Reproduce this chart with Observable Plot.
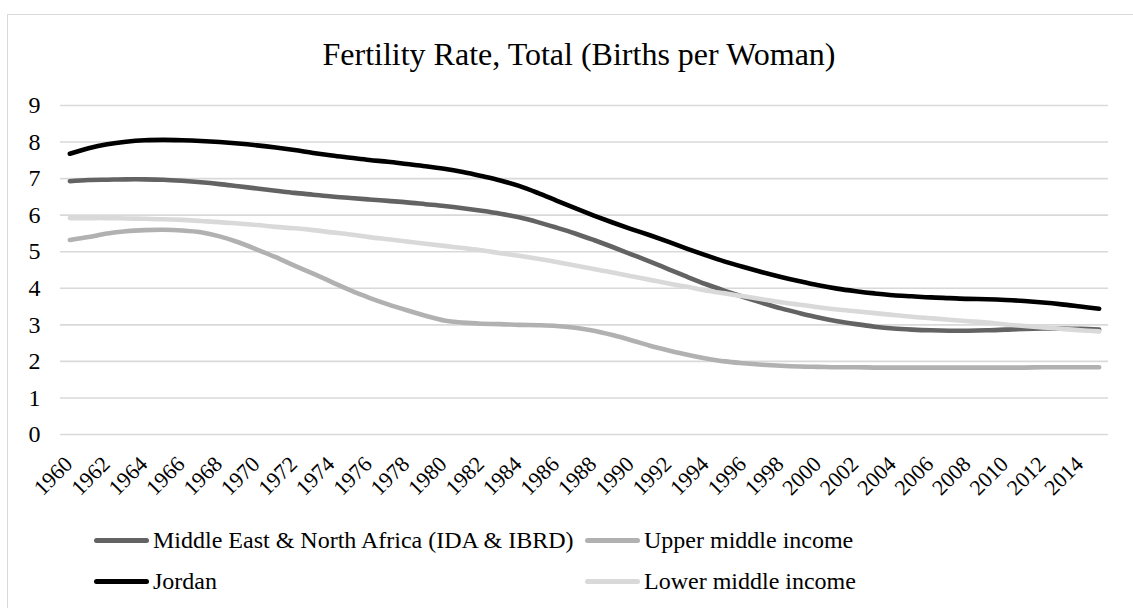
<!DOCTYPE html>
<html>
<head>
<meta charset="utf-8">
<script src="https://cdn.jsdelivr.net/npm/d3@7"></script>
<script src="https://cdn.jsdelivr.net/npm/@observablehq/plot@0.6"></script>
<style>
  html, body { margin: 0; padding: 0; background: #fff; overflow: hidden; }
  body { width: 1133px; height: 608px; position: relative; font-family: "Liberation Serif", "Times New Roman", serif; }
  #frame { position: absolute; left: 7px; top: 14px; width: 1200px; height: 700px; border: 1px solid #d9d9d9; box-sizing: border-box; }
  #title { position: absolute; left: 0; top: 38px; width: 1158px; text-align: center; font-size: 32px; line-height: 32px; color: #000; white-space: nowrap; }
  #chart { position: absolute; left: 0; top: 0; }
  .item { position: absolute; font-size: 24px; line-height: 24px; color: #000; white-space: nowrap; padding-left: 59px; }
  .sw { position: absolute; left: 0; top: 9.5px; width: 55px; height: 5px; border-radius: 3px; }
</style>
</head>
<body>
<div id="frame"></div>
<div id="title">Fertility Rate, Total (Births per Woman)</div>
<div id="chart"></div>
<div id="legend"></div>
<script>
const years = [1960,1961,1962,1963,1964,1965,1966,1967,1968,1969,
  1970,1971,1972,1973,1974,1975,1976,1977,1978,1979,
  1980,1981,1982,1983,1984,1985,1986,1987,1988,1989,
  1990,1991,1992,1993,1994,1995,1996,1997,1998,1999,
  2000,2001,2002,2003,2004,2005,2006,2007,2008,2009,
  2010,2011,2012,2013,2014,2015];
const tickYears = [1960,1962,1964,1966,1968,1970,1972,1974,1976,1978,1980,1982,1984,1986,1988,
  1990,1992,1994,1996,1998,2000,2002,2004,2006,2008,2010,2012,2014];
const yTicks = [0,1,2,3,4,5,6,7,8,9];

const seriesNames = ["Middle East & North Africa (IDA & IBRD)", "Upper middle income", "Jordan", "Lower middle income"];
const seriesColors = ["#636363", "#b1b1b1", "#000000", "#d9d9d9"];

const mena = [6.93,6.96,6.97,6.98,6.98,6.97,6.94,6.90,6.85,6.79,
  6.73,6.67,6.61,6.56,6.51,6.47,6.43,6.39,6.35,6.30,
  6.25,6.19,6.12,6.04,5.94,5.81,5.66,5.50,5.32,5.13,
  4.93,4.73,4.52,4.31,4.11,3.93,3.76,3.60,3.45,3.32,
  3.20,3.10,3.02,2.95,2.90,2.87,2.85,2.84,2.84,2.85,
  2.87,2.89,2.90,2.90,2.89,2.87];
const upperMiddle = [5.32,5.40,5.50,5.56,5.59,5.60,5.58,5.53,5.42,5.26,
  5.06,4.85,4.62,4.40,4.17,3.94,3.74,3.56,3.40,3.25,
  3.12,3.06,3.03,3.02,3.00,2.99,2.97,2.92,2.84,2.72,
  2.58,2.43,2.30,2.18,2.08,2.00,1.95,1.91,1.88,1.86,
  1.85,1.84,1.84,1.83,1.83,1.83,1.83,1.83,1.83,1.83,
  1.83,1.83,1.84,1.84,1.84,1.84];
const jordan = [7.68,7.83,7.94,8.01,8.05,8.06,8.05,8.03,8.00,7.96,
  7.91,7.85,7.78,7.70,7.63,7.57,7.51,7.46,7.40,7.34,
  7.27,7.18,7.07,6.95,6.80,6.61,6.40,6.19,5.99,5.80,
  5.62,5.45,5.27,5.08,4.90,4.73,4.58,4.44,4.31,4.19,
  4.08,3.99,3.92,3.86,3.81,3.78,3.75,3.73,3.71,3.70,
  3.68,3.65,3.61,3.56,3.50,3.44];
const lowerMiddle = [5.92,5.92,5.92,5.91,5.90,5.89,5.87,5.84,5.81,5.77,
  5.73,5.68,5.64,5.59,5.53,5.47,5.40,5.34,5.28,5.22,
  5.16,5.10,5.04,4.96,4.89,4.81,4.72,4.62,4.53,4.43,
  4.33,4.23,4.13,4.04,3.94,3.86,3.78,3.70,3.62,3.55,
  3.48,3.42,3.37,3.32,3.27,3.22,3.18,3.14,3.10,3.06,
  3.01,2.97,2.93,2.89,2.85,2.82];

const seriesValues = [mena, upperMiddle, jordan, lowerMiddle];
const data = [];
seriesNames.forEach((name, s) => {
  years.forEach((yr, i) => data.push({series: name, year: yr, value: seriesValues[s][i]}));
});

const chart = Plot.plot({
  width: 1133,
  height: 500,
  marginLeft: 60,
  marginRight: 25,
  marginTop: 105,
  marginBottom: 66,
  style: {fontFamily: "Liberation Serif", fontSize: "24px", color: "#000", background: "transparent", overflow: "visible"},
  x: {type: "point", domain: years, padding: 0.5},
  y: {domain: [0, 9]},
  color: {domain: seriesNames, range: seriesColors},
  marks: [
    Plot.ruleY(yTicks, {stroke: "#d9d9d9", strokeWidth: 1.6}),
    Plot.axisY({ticks: yTicks, tickSize: 0, tickPadding: 20, label: null, fontSize: 24}),
    Plot.axisX({ticks: tickYears, tickSize: 0, tickPadding: 26, tickRotate: -45, label: null, fontSize: 22, dx: -1, tickFormat: d => String(d)}),
    Plot.line(data, {x: "year", y: "value", z: "series", stroke: "series", strokeWidth: 4.6, curve: "catmull-rom", strokeLinecap: "round", strokeLinejoin: "round"})
  ]
});
document.getElementById("chart").appendChild(chart);

const legendPos = [
  {left: 94, top: 528},
  {left: 585, top: 528},
  {left: 94, top: 569},
  {left: 585, top: 569}
];
const legend = document.getElementById("legend");
seriesNames.forEach((name, i) => {
  const item = document.createElement("div");
  item.className = "item";
  item.style.left = legendPos[i].left + "px";
  item.style.top = legendPos[i].top + "px";
  const sw = document.createElement("span");
  sw.className = "sw";
  sw.style.background = seriesColors[i];
  item.appendChild(sw);
  item.appendChild(document.createTextNode(name));
  legend.appendChild(item);
});
</script>
</body>
</html>
